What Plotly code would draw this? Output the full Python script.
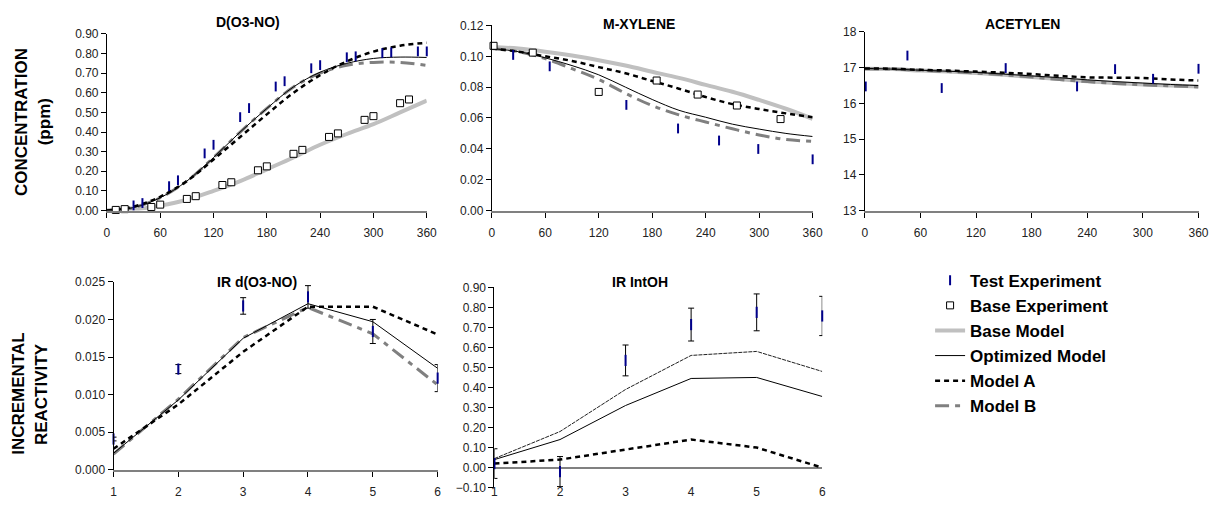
import plotly.graph_objects as go

# ---------------- data ----------------
# model output times (min)
t_model = [0, 30, 60, 90, 120, 150, 180, 210, 240, 270, 300, 330, 360]

# D(O3-NO), ppm
d_test_t = [30, 40, 70, 80, 110, 120, 150, 160, 190, 200, 230, 240, 270, 280, 310, 320, 350, 360]
d_test = [0.026, 0.038, 0.124, 0.154, 0.291, 0.335, 0.476, 0.522, 0.632, 0.659,
          0.725, 0.741, 0.781, 0.786, 0.802, 0.806, 0.811, 0.811]
d_base_t = [10, 20, 50, 60, 90, 100, 130, 140, 170, 180, 210, 220, 250, 260, 290, 300, 330, 340]
d_base = [0.003, 0.007, 0.018, 0.030, 0.059, 0.073, 0.130, 0.144, 0.205, 0.225,
          0.289, 0.309, 0.375, 0.393, 0.462, 0.481, 0.547, 0.566]
d_base_model = [0.0, 0.005, 0.025, 0.055, 0.10, 0.15, 0.21, 0.27, 0.335, 0.39, 0.44, 0.50, 0.56]
d_opt = [0.0, 0.015, 0.065, 0.15, 0.27, 0.40, 0.52, 0.63, 0.705, 0.75, 0.775, 0.782, 0.78]
d_model_a = [0.0, 0.02, 0.07, 0.15, 0.26, 0.375, 0.49, 0.60, 0.69, 0.76, 0.81, 0.84, 0.855]
d_model_b = [0.0, 0.015, 0.065, 0.15, 0.27, 0.40, 0.52, 0.63, 0.70, 0.74, 0.755, 0.755, 0.74]

# M-XYLENE, ppm
x_test_t = [24, 65, 151, 209, 255, 299, 360]
x_test = [0.1009, 0.0935, 0.0685, 0.0532, 0.0454, 0.0399, 0.0332]
x_base_t = [2, 46, 120, 185, 231, 275, 324]
x_base = [0.1068, 0.1024, 0.0769, 0.0843, 0.0752, 0.0681, 0.0593]
x_base_model = [0.106, 0.105, 0.103, 0.1005, 0.0975, 0.094, 0.090, 0.086, 0.0815, 0.077, 0.0717, 0.066, 0.0595]
x_opt = [0.105, 0.103, 0.099, 0.094, 0.088, 0.080, 0.072, 0.065, 0.0605, 0.056, 0.0528, 0.050, 0.048]
x_model_a = [0.105, 0.103, 0.100, 0.097, 0.093, 0.089, 0.084, 0.079, 0.0736, 0.069, 0.0658, 0.063, 0.0605]
x_model_b = [0.105, 0.103, 0.0985, 0.092, 0.085, 0.076, 0.068, 0.062, 0.0574, 0.053, 0.049, 0.046, 0.0448]

# ACETYLEN, ppm
a_test_t = [1, 46, 83, 152, 229, 270, 311, 360]
a_test = [16.475, 17.34, 16.43, 16.99, 16.475, 16.96, 16.69, 16.97]
a_base_model = [16.97, 16.96, 16.92, 16.89, 16.85, 16.80, 16.74, 16.68, 16.62, 16.57, 16.53, 16.50, 16.47]
a_opt = [16.98, 16.96, 16.93, 16.90, 16.87, 16.82, 16.77, 16.72, 16.66, 16.61, 16.57, 16.53, 16.50]
a_model_a = [16.98, 16.97, 16.94, 16.92, 16.89, 16.86, 16.82, 16.77, 16.73, 16.72, 16.71, 16.67, 16.64]
a_model_b = [16.97, 16.96, 16.93, 16.89, 16.85, 16.80, 16.74, 16.67, 16.61, 16.56, 16.52, 16.49, 16.46]

# incremental reactivity, per hour
ir_hour = [1, 2, 3, 4, 5, 6]
ir_d_test = [0.0041, 0.0134, 0.0218, 0.0230, 0.0184, 0.0122]
ir_d_err = [0.00025, 0.0006, 0.0011, 0.0015, 0.0016, 0.0018]
ir_d_opt = [0.0022, 0.0093, 0.0175, 0.0221, 0.0197, 0.0135]
ir_d_model_a = [0.0028, 0.0087, 0.0157, 0.0217, 0.0217, 0.0180]
ir_d_model_b = [0.0021, 0.0094, 0.0176, 0.0216, 0.0181, 0.0113]

ir_oh_test = [0.02, -0.02, 0.535, 0.714, 0.775, 0.757]
ir_oh_err = [0.074, 0.075, 0.077, 0.082, 0.092, 0.098]
ir_oh_opt = [0.04, 0.14, 0.31, 0.445, 0.45, 0.355]
ir_oh_upper = [0.045, 0.18, 0.39, 0.56, 0.58, 0.48]
ir_oh_model_a = [0.02, 0.04, 0.09, 0.14, 0.10, 0.0]

# ---------------- styles ----------------
W, H = 1228, 506
FONT = "Liberation Sans, Arial, sans-serif"
NAVY = "#00008B"

TEST_MK = dict(symbol="line-ns-open", size=7, color=NAVY, line=dict(color=NAVY, width=2))
BASE_MK = dict(symbol="square", size=7, color="white", line=dict(color="black", width=1))
L_BASE = dict(color="#C0C0C0", width=4)
L_OPT = dict(color="black", width=1)
L_A = dict(color="black", width=2.5, dash="5px,4px")
L_B = dict(color="#808080", width=3, dash="14px,6px,5px,6px")

fig = go.Figure()


def line(x, y, ax, name, style, shape="spline", legend=False, rank=None):
    fig.add_trace(go.Scatter(
        x=x, y=y, mode="lines", name=name, line=dict(style, shape=shape),
        xaxis="x" + ax, yaxis="y" + ax, showlegend=legend, legendgroup=name,
        legendrank=rank if rank else 1000, hoverinfo="skip"))


def points(x, y, ax, name, marker, legend=False, rank=None, err=None):
    fig.add_trace(go.Scatter(
        x=x, y=y, mode="markers", name=name, marker=marker,
        error_y=(dict(type="data", array=err, color="black", thickness=1, width=3)
                 if err else None),
        xaxis="x" + ax, yaxis="y" + ax, showlegend=legend, legendgroup=name,
        legendrank=rank if rank else 1000, cliponaxis=False))


# panel 1: D(O3-NO)
line(t_model, d_base_model, "", "Base Model", L_BASE, legend=True, rank=3)
line(t_model, d_model_b, "", "Model B", L_B, legend=True, rank=6)
line(t_model, d_model_a, "", "Model A", L_A, legend=True, rank=5)
line(t_model, d_opt, "", "Optimized Model", L_OPT, legend=True, rank=4)
points(d_base_t, d_base, "", "Base Experiment", BASE_MK, legend=True, rank=2)
points(d_test_t, d_test, "", "Test Experiment", TEST_MK, legend=True, rank=1)

# panel 2: M-XYLENE
line(t_model, x_base_model, "2", "Base Model", L_BASE)
line(t_model, x_model_b, "2", "Model B", L_B)
line(t_model, x_model_a, "2", "Model A", L_A)
line(t_model, x_opt, "2", "Optimized Model", L_OPT)
points(x_base_t, x_base, "2", "Base Experiment", BASE_MK)
points(x_test_t, x_test, "2", "Test Experiment", TEST_MK)

# panel 3: ACETYLEN
line(t_model, a_base_model, "3", "Base Model", L_BASE)
line(t_model, a_model_b, "3", "Model B", L_B)
line(t_model, a_model_a, "3", "Model A", L_A)
line(t_model, a_opt, "3", "Optimized Model", L_OPT)
points(a_test_t, a_test, "3", "Test Experiment", TEST_MK)

# panel 4: IR d(O3-NO)
line(ir_hour, ir_d_model_b, "4", "Model B", L_B, shape="linear")
line(ir_hour, ir_d_model_a, "4", "Model A", L_A, shape="linear")
line(ir_hour, ir_d_opt, "4", "Optimized Model", L_OPT, shape="linear")
points(ir_hour, ir_d_test, "4", "Test Experiment", dict(TEST_MK, size=8), err=ir_d_err)

# panel 5: IR IntOH
line(ir_hour, ir_oh_model_a, "5", "Model A", L_A, shape="linear")
line(ir_hour, ir_oh_upper, "5", "Optimized Model", dict(color="#202020", width=1, dash="4px,1px"),
     shape="linear")
line(ir_hour, ir_oh_opt, "5", "Optimized Model", L_OPT, shape="linear")
points(ir_hour, ir_oh_test, "5", "Test Experiment", dict(TEST_MK, size=8), err=ir_oh_err)

# ---------------- axes ----------------
TICKFONT = dict(family=FONT, size=12, color="#222222")


def dom_x(a, b):
    return [a / W, b / W]


def dom_y(top, bottom):
    return [1 - bottom / H, 1 - top / H]


def xaxis(dom, anchor, rng, dtick, **kw):
    d = dict(domain=dom, anchor=anchor, range=rng, dtick=dtick, tick0=rng[0],
             showline=True, linecolor="#808080", linewidth=2, ticks="outside",
             ticklen=5, tickcolor="black", tickwidth=1, showgrid=False, zeroline=False,
             tickfont=TICKFONT, ticklabelstandoff=5, fixedrange=True)
    d.update(kw)
    return d


def yaxis(dom, anchor, rng, dtick, fmt, **kw):
    d = dict(domain=dom, anchor=anchor, range=rng, dtick=dtick, tick0=rng[0],
             tickformat=fmt, showline=True, linecolor="black", linewidth=1,
             ticks="outside", ticklen=5, tickcolor="black", tickwidth=1,
             showgrid=False, zeroline=False, tickfont=TICKFONT, fixedrange=True)
    d.update(kw)
    return d


P1 = (dom_x(105, 428.3), dom_y(27.7, 209.3))
P2 = (dom_x(494, 818.3), dom_y(19, 209.3))
P3 = (dom_x(871, 1208.3), dom_y(25.7, 209.3))
P4 = (dom_x(111.7, 439.3), dom_y(282.7, 476))
P5 = (dom_x(496.7, 828), dom_y(288.3, 494.3))

fig.update_layout(
    xaxis=xaxis(P1[0], "y", [0, 360], 60),
    yaxis=yaxis(P1[1], "x", [0, 0.9], 0.1, ".2f"),
    xaxis2=xaxis(P2[0], "y2", [0, 360], 60),
    yaxis2=yaxis(P2[1], "x2", [0, 0.12], 0.02, ".2f"),
    xaxis3=xaxis(P3[0], "y3", [0, 360], 60),
    yaxis3=yaxis(P3[1], "x3", [13, 18], 1, "d"),
    xaxis4=xaxis(P4[0], "y4", [1, 6], 1),
    yaxis4=yaxis(P4[1], "x4", [0, 0.025], 0.005, ".3f"),
    xaxis5=xaxis(P5[0], "free", [1, 6], 1, showline=False, ticks="",
                 position=1 - 484 / H),
    yaxis5=yaxis(P5[1], "x5", [-0.1, 0.9], 0.1, ".2f", zeroline=True,
                 zerolinecolor="#808080", zerolinewidth=2),
)

# ---------------- text ----------------
ann = []


def text(x, y, s, size=14, angle=0):
    ann.append(dict(x=x / W, y=1 - y / H, xref="paper", yref="paper", text=s,
                    showarrow=False, textangle=angle, xanchor="center", yanchor="middle",
                    font=dict(family=FONT, size=size, color="black", weight="bold")))


text(248, 15, "D(O3-NO)")
text(643, 17, "M-XYLENE")
text(1030, 17, "ACETYLEN")
text(257, 283, "IR d(O3-NO)")
text(644, 283, "IR IntOH")
text(18.5, 118, "CONCENTRATION", size=17, angle=-90)
text(42, 118, "(ppm)", size=17, angle=-90)
text(16, 398, "INCREMENTAL", size=17, angle=-90)
text(39.5, 398, "REACTIVITY", size=17, angle=-90)

fig.update_layout(
    annotations=ann,
    width=W, height=H,
    margin=dict(l=0, r=0, t=0, b=0),
    paper_bgcolor="white", plot_bgcolor="white",
    font=dict(family=FONT),
    showlegend=True,
    legend=dict(x=937 / W, y=1 - 263 / H, xanchor="left", yanchor="top",
                bgcolor="rgba(0,0,0,0)", tracegroupgap=0,
                font=dict(family=FONT, size=17, color="black", weight="bold")),
)

fig.write_html("out.html")
